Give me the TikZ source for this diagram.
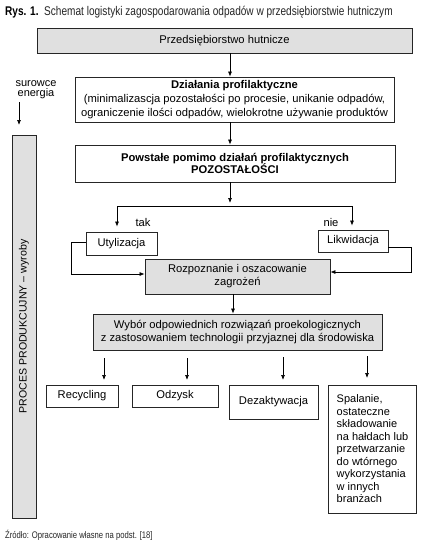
\documentclass[tikz,border=0pt]{standalone}
\usepackage{fontspec}
\setmainfont{Liberation Sans}
\newfontfamily\narrowfont[FakeStretch=0.8]{Liberation Sans}
\usetikzlibrary{arrows.meta}
\begin{document}
\begin{tikzpicture}[x=1pt,y=-1pt,
  font=\fontsize{11.2}{13}\selectfont,
  box/.style={draw=black!85, line width=0.8pt, inner sep=2pt, align=center},
  graybox/.style={box, fill=black!12},
  arr/.style={-{Latex[length=5pt,width=4pt]}, line width=0.7pt},
  ln/.style={line width=0.7pt}]
\useasboundingbox[fill=white] (0,0) rectangle (433,550);

% caption
\node[anchor=west, inner sep=0pt, font=\fontsize{12.6}{14}\narrowfont] (cap) at (5,12)
  {\textbf{Rys. 1.}\ \ \color{black!85}Schemat logistyki zagospodarowania odpadów w przedsiębiorstwie hutniczym};

% boxes
\node[graybox, minimum width=375, minimum height=25] (top) at (224.5,40.5) {Przedsiębiorstwo hutnicze};
\node[box, minimum width=319, minimum height=45, font=\fontsize{11.2}{14}\selectfont] (prof) at (234.5,99.5)
  {\textbf{Działania profilaktyczne}\\(minimalizascja pozostałości po procesie, unikanie odpadów,\\ograniczenie ilości odpadów, wielokrotne używanie produktów};
\node[box, minimum width=320, minimum height=37, font=\fontsize{11.2}{12.6}\selectfont] (poz) at (235,163.5)
  {\textbf{Powstałe pomimo działań profilaktycznych}\\\textbf{POZOSTAŁOŚCI}};
\node[box, minimum width=71, minimum height=23] (uty) at (121.5,243.5) {Utylizacja};
\node[box, minimum width=70, minimum height=22] (lik) at (353,241) {Likwidacja};
\node[graybox, minimum width=185, minimum height=35] (roz) at (237.5,276.5)
  {Rozpoznanie i oszacowanie\\zagrożeń};
\node[graybox, minimum width=289, minimum height=36] (wyb) at (237.5,332)
  {Wybór odpowiednich rozwiązań proekologicznych\\z zastosowaniem technologii przyjaznej dla środowiska};
\node[box, minimum width=72, minimum height=22] (rec) at (82,396) {Recycling};
\node[box, minimum width=86, minimum height=22] (odz) at (175,396) {Odzysk};
\node[box, minimum width=89, minimum height=34] (dez) at (273.5,402) {Dezaktywacja};
\node[box, align=left, minimum width=88, minimum height=128,
  font=\fontsize{11}{12.5}\selectfont] (spa) at (372.5,449)
  {Spalanie,\\ostateczne\\składowanie\\na hałdach lub\\przetwarzanie\\do wtórnego\\wykorzystania\\w innych\\branżach};
\node[graybox, rotate=90, minimum width=383, minimum height=24, font=\fontsize{10.6}{12}\selectfont] (proc) at (24,326.5)
  {PROCES PRODUKCUJNY – wyroby};

% labels
\node[align=center, inner sep=0pt, font=\fontsize{11}{10}\selectfont] (sur) at (36,89.5) {surowce\\energia};
\node[inner sep=0pt] (tak) at (143,222) {tak};
\node[inner sep=0pt] (nie) at (331,222) {nie};
\node[anchor=west, inner sep=0pt, font=\fontsize{9.6}{11}\narrowfont, text=black!85] (src) at (5,535)
  {Źródło: Opracowanie własne na podst. [18]};

% coordinates
\coordinate (c230) at (230,0);
\coordinate (c233) at (233,0);
\coordinate (split) at (230,206);
\coordinate (splitL) at (117,206);
\coordinate (splitR) at (352,206);
\coordinate (s1) at (19,102); \coordinate (e1) at (19,125);
\coordinate (a1) at (104,358); \coordinate (b1) at (104,380);
\coordinate (a2) at (187,358); \coordinate (b2) at (187,380);
\coordinate (a3) at (283,357); \coordinate (b3) at (283,380);
\coordinate (a4) at (367,356); \coordinate (b4) at (367,378);

% connectors
\draw[arr] (top.south -| c230) -- (prof.north -| c230);
\draw[arr] (prof.south -| c230) -- (poz.north -| c230);
\draw[arr, shorten >=3pt] (poz.south -| c230) -- (split);
\draw[arr, shorten >=5pt] (split) -| (splitL |- uty.north);
\draw[arr, shorten >=4pt] (split) -| (splitR |- lik.north);
\draw[arr] ([yshift=1.5pt]uty.west) -- ++(-14,0) |- ([yshift=2.5pt]roz.west);
\draw[arr] ([yshift=-6pt]lik.east) -- ++(23,0) |- ([yshift=4.5pt]roz.east);
\draw[arr] (roz.south -| c233) -- (wyb.north -| c233);
\draw[arr] (s1) -- (e1);
\draw[arr] (a1) -- (b1);
\draw[arr] (a2) -- (b2);
\draw[arr] (a3) -- (b3);
\draw[arr] (a4) -- (b4);
\end{tikzpicture}
\end{document}
